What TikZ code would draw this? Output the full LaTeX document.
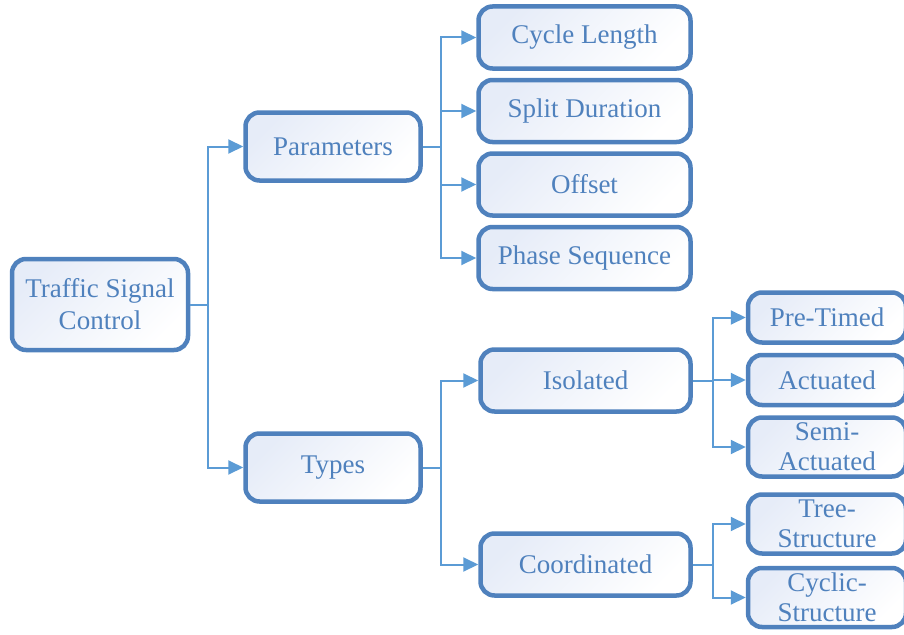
\documentclass[tikz,border=0pt]{standalone}
\usepackage{fontspec}
\setmainfont{Liberation Serif}
\usetikzlibrary{positioning}
\usetikzlibrary{arrows.meta}
\definecolor{boxline}{RGB}{79,129,189}
\definecolor{boxtext}{RGB}{79,129,189}
\definecolor{linkline}{RGB}{91,155,213}
\definecolor{boxshade}{RGB}{230,236,248}

\begin{document}
\begin{tikzpicture}[x=1pt, y=-1pt,
      box/.style ={rectangle, rounded corners=14pt, draw=boxline, line width=4.5pt,
                   top color=boxshade, bottom color=white, shading angle=45,
                   text=boxtext, align=center, inner sep=0pt,
                   font=\fontsize{27}{30}\selectfont},
      root/.style ={box, minimum width=176pt, minimum height=91pt, font=\fontsize{27}{32}\selectfont},
      mid/.style  ={box, minimum width=175pt, minimum height=68pt},
      leaf/.style ={box, minimum width=212pt, minimum height=62pt},
      kind/.style ={box, minimum width=210pt, minimum height=62pt},
      small/.style={box, minimum width=158pt, minimum height=50pt},
      tall/.style ={box, minimum width=158pt, minimum height=59pt},
      link/.style ={draw=linkline, line width=2pt, -{Triangle[length=15pt,width=14pt]}},
      node distance=7pt
    ]
    \useasboundingbox (0,0) rectangle (904,634);

    \node [root] (tsc) at (100,304.5) {Traffic Signal\\Control} ;
    \node [mid] (params) at (333,146.5) {Parameters} ;
    \node [mid] (types) at (333,467.5) {Types} ;

    \node [leaf] (cycle) at (584.5,37.5) {Cycle Length} ;
    \node [leaf] (split) [below=of cycle] {Split Duration} ;
    \node [leaf] (offset) [below=of split] {Offset} ;
    \node [leaf] (phase) [below=of offset] {Phase Sequence} ;

    \node [kind] (isolated) at (585.5,380.5) {Isolated} ;
    \node [kind] (coord) at (585.5,564.5) {Coordinated} ;

    \node [small] (pretimed) at (827,317.5) {Pre-Timed} ;
    \node [small] (actuated) [below=8pt of pretimed] {Actuated} ;
    \node [tall] (semi) [below=8pt of actuated] {Semi-\\Actuated} ;
    \node [tall] (tree) at (827,524) {Tree-\\Structure} ;
    \node [tall] (cyclic) [below=10pt of tree] {Cyclic-\\Structure} ;

    \draw [link] (tsc.east) -- ++(18,0) |- (params.west) ;
    \draw [link] (tsc.east) -- ++(18,0) |- (types.west) ;

    \draw [link] (params.east) -- ++(18,0) |- (cycle.west) ;
    \draw [link] (params.east) -- ++(18,0) |- (split.west) ;
    \draw [link] (params.east) -- ++(18,0) |- (offset.west) ;
    \draw [link] (params.east) -- ++(18,0) |- (phase.west) ;

    \draw [link] (types.east) -- ++(18,0) |- (isolated.west) ;
    \draw [link] (types.east) -- ++(18,0) |- (coord.west) ;

    \draw [link] (isolated.east) -- ++(20,0) |- (pretimed.west) ;
    \draw [link] (isolated.east) -- ++(20,0) |- (actuated.west) ;
    \draw [link] (isolated.east) -- ++(20,0) |- (semi.west) ;

    \draw [link] (coord.east) -- ++(20,0) |- (tree.west) ;
    \draw [link] (coord.east) -- ++(20,0) |- (cyclic.west) ;
  \end{tikzpicture}
\end{document}
